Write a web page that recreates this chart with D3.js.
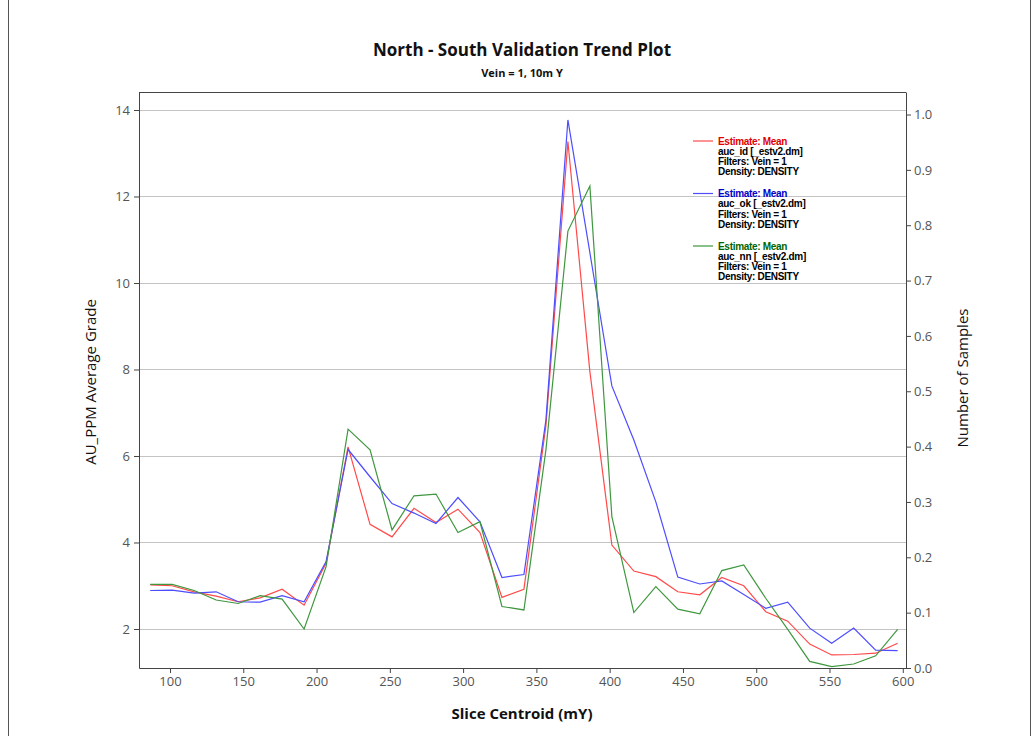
<!DOCTYPE html>
<html>
<head>
<meta charset="utf-8">
<script src="https://cdn.jsdelivr.net/npm/d3@7"></script>
<style>
  body { margin: 0; background: #fff; }
  svg { display: block; }
  .axis text { font-family: 'Open Sans', sans-serif; font-size: 13px; fill: #555; }
  .axis path, .axis line { stroke: #444; }
</style>
</head>
<body>
<svg width="1034" height="736"></svg>
<script>
/* validation trend plot */

// DATA ////////////////////////////////////////////////////////////////////////
const centroids = [
  86.5, 101.5, 116.5, 131.5, 146.5, 161.5, 176.5, 191.5, 206.5, 221.5,
  236.5, 251.5, 266.5, 281.5, 296.5, 311.5, 326.5, 341.5, 356.5, 371.5,
  386.5, 401.5, 416.5, 431.5, 446.5, 461.5, 476.5, 491.5, 506.5, 521.5,
  536.5, 551.5, 566.5, 581.5, 596.5
];
const meanId = [
  3.02, 3.0, 2.86, 2.76, 2.63, 2.72, 2.92, 2.55, 3.52, 6.21,
  4.42, 4.13, 4.79, 4.46, 4.77, 4.23, 2.73, 2.92, 6.7, 13.27,
  7.95, 3.94, 3.34, 3.21, 2.86, 2.79, 3.19, 3.0, 2.4, 2.18,
  1.65, 1.4, 1.41, 1.44, 1.67
];
const meanOk = [
  2.89, 2.9, 2.83, 2.86, 2.63, 2.62, 2.77, 2.63, 3.56, 6.15,
  5.52, 4.9, 4.68, 4.44, 5.04, 4.48, 3.19, 3.26, 6.83, 13.77,
  10.7, 7.62, 6.37, 4.94, 3.2, 3.04, 3.11, 2.8, 2.48, 2.62,
  2.02, 1.67, 2.02, 1.51, 1.5
];
const meanNn = [
  3.03, 3.03, 2.89, 2.67, 2.59, 2.77, 2.69, 2.0, 3.44, 6.62,
  6.14, 4.29, 5.08, 5.12, 4.23, 4.48, 2.52, 2.44, 6.14, 11.2,
  12.24, 4.6, 2.38, 2.98, 2.46, 2.35, 3.35, 3.48, 2.71, 1.99,
  1.25, 1.13, 1.19, 1.38, 1.99
];
const gradeTicks = [2, 4, 6, 8, 10, 12, 14];
const sampleTicks = [0, 0.1, 0.2, 0.3, 0.4, 0.5, 0.6, 0.7, 0.8, 0.9, 1.0];
const centroidTicks = [100, 150, 200, 250, 300, 350, 400, 450, 500, 550, 600];
const legendNames = ['auc_id [_estv2.dm]', 'auc_ok [_estv2.dm]', 'auc_nn [_estv2.dm]'];

// SET PARAMETERS //////////////////////////////////////////////////////////////
const svg = d3.select('svg');
const plot = { left: 139, right: 906, top: 92, bottom: 668 };

const x = d3.scaleLinear().domain([78.85, 602.2]).range([plot.left, plot.right]);
const y = d3.scaleLinear().domain([1.098, 14.416]).range([plot.bottom, plot.top]);
const y2 = d3.scaleLinear().domain([0, 1.0407]).range([plot.bottom, plot.top]);

const series = [
  { values: meanId, stroke: '#ff4a4a', text: '#e00000', name: legendNames[0] },
  { values: meanOk, stroke: '#4d4dff', text: '#0000c8', name: legendNames[1] },
  { values: meanNn, stroke: '#3f973f', text: '#006400', name: legendNames[2] }
];

// DRAW ///////////////////////////////////////////////////////////////////////
// outer border
svg.append('line').attr('x1', 8.5).attr('x2', 8.5).attr('y1', 0).attr('y2', 736)
  .attr('stroke', '#555');
svg.append('line').attr('x1', 1030.5).attr('x2', 1030.5).attr('y1', 0).attr('y2', 736)
  .attr('stroke', '#555');

// gridlines
svg.append('g')
  .selectAll('line')
  .data(gradeTicks)
  .enter()
  .append('line')
  .attr('x1', plot.left)
  .attr('x2', plot.right)
  .attr('y1', d => Math.round(y(d)) + 0.5)
  .attr('y2', d => Math.round(y(d)) + 0.5)
  .attr('stroke', '#c4c4c4')
  .attr('stroke-width', 1.2);

// lines
const line = d3.line()
  .x((d, i) => x(centroids[i]))
  .y(d => y(d));

svg.append('g')
  .selectAll('path')
  .data(series)
  .enter()
  .append('path')
  .attr('fill', 'none')
  .attr('stroke', d => d.stroke)
  .attr('stroke-width', 1.2)
  .attr('d', d => line(d.values));

// x axis
svg.append('g')
  .attr('class', 'axis')
  .attr('transform', `translate(0,${plot.bottom})`)
  .call(d3.axisBottom(x).tickValues(centroidTicks).tickSize(5).tickSizeOuter(0).tickPadding(4));

// left axis
svg.append('g')
  .attr('class', 'axis')
  .attr('transform', `translate(${plot.left},0)`)
  .call(d3.axisLeft(y).tickValues(gradeTicks).tickSize(5).tickSizeOuter(0).tickPadding(4));

// right axis
svg.append('g')
  .attr('class', 'axis')
  .attr('transform', `translate(${plot.right},0)`)
  .call(d3.axisRight(y2).tickValues(sampleTicks).tickFormat(d3.format('.1f'))
    .tickSize(5).tickSizeOuter(0).tickPadding(3));

// top frame line
svg.append('line')
  .attr('x1', plot.left).attr('x2', plot.right)
  .attr('y1', plot.top + 0.5).attr('y2', plot.top + 0.5)
  .attr('stroke', '#444');

// titles
svg.append('text')
  .attr('x', 522).attr('y', 56)
  .attr('text-anchor', 'middle')
  .style('font', 'bold 17px "Open Sans", sans-serif')
  .style('fill', '#111')
  .text('North - South Validation Trend Plot');

svg.append('text')
  .attr('x', 522).attr('y', 77)
  .attr('text-anchor', 'middle')
  .style('font', 'bold 11px "Open Sans", sans-serif')
  .style('fill', '#111')
  .text('Vein = 1, 10m Y');

svg.append('text')
  .attr('x', 522).attr('y', 719)
  .attr('text-anchor', 'middle')
  .style('font', 'bold 15px "Open Sans", sans-serif')
  .style('fill', '#111')
  .text('Slice Centroid (mY)');

svg.append('text')
  .attr('transform', 'translate(96,382) rotate(-90)')
  .attr('text-anchor', 'middle')
  .style('font', '15px "Open Sans", sans-serif')
  .style('fill', '#111')
  .text('AU_PPM Average Grade');

svg.append('text')
  .attr('transform', 'translate(968,378) rotate(-90)')
  .attr('text-anchor', 'middle')
  .style('font', '15px "Open Sans", sans-serif')
  .style('fill', '#111')
  .text('Number of Samples');

// legend
const legend = svg.append('g')
  .selectAll('g')
  .data(series)
  .enter()
  .append('g')
  .attr('transform', (d, i) => `translate(693,${141 + i * 52.5})`);

legend.append('line')
  .attr('x1', 0).attr('x2', 20)
  .attr('stroke', d => d.stroke)
  .attr('stroke-width', 1.2);

legend.each(function(d) {
  const rows = ['Estimate: Mean', d.name, 'Filters: Vein = 1', 'Density: DENSITY'];
  d3.select(this)
    .selectAll('text')
    .data(rows)
    .enter()
    .append('text')
    .attr('x', 25)
    .attr('y', (r, j) => j * 10.3 + 3.5)
    .style('font', 'bold 10px "Liberation Sans Narrow", "Liberation Sans", sans-serif')
    .style('letter-spacing', '-0.3px')
    .style('fill', (r, j) => (j === 0 ? d.text : '#000'))
    .text(r => r);
});
</script>
</body>
</html>
